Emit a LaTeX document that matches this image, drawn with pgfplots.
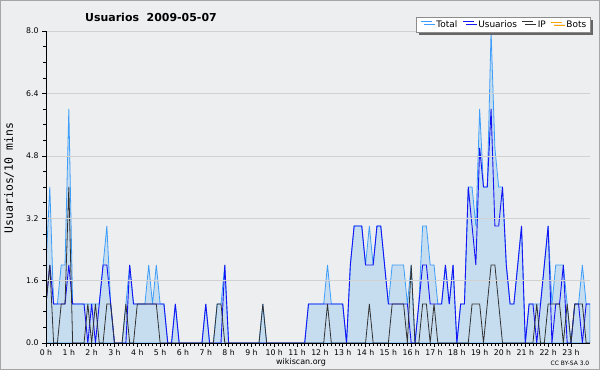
\documentclass[border=0pt]{standalone}
\usepackage{pgfplots}
\usepackage{pgfplotstable}
\pgfplotsset{compat=1.18}
\usepackage{fontspec}
\setmainfont{DejaVu Sans}
\newfontfamily\monofont{DejaVu Sans Mono}
\usetikzlibrary{shadows}
\definecolor{bgc}{RGB}{237,238,240}
\definecolor{totline}{RGB}{60,158,250}
\definecolor{totfill}{RGB}{198,221,240}
\definecolor{usrline}{RGB}{20,20,245}
\definecolor{ipline}{RGB}{50,50,50}
\definecolor{botline}{RGB}{255,165,0}
\pgfplotstableread{
i U IP T
0 1 1 2
1 2 2 4
2 1 0 1
3 1 0 1
4 1 1 2
5 1 1 2
6 2 4 6
7 1 0 1
8 1 0 1
9 1 0 1
10 1 0 1
11 0 1 1
12 1 0 1
13 0 1 1
14 1 0 1
15 2 0 2
16 2 1 3
17 1 1 1
18 0 0 0
19 0 0 0
20 0 0 0
21 0 1 1
22 2 0 2
23 1 0 1
24 1 1 1
25 1 1 1
26 1 1 1
27 1 1 2
28 1 1 1
29 1 1 2
30 1 0 1
31 1 0 1
32 0 0 0
33 0 0 0
34 1 0 1
35 0 0 0
36 0 0 0
37 0 0 0
38 0 0 0
39 0 0 0
40 0 0 0
41 0 0 0
42 1 0 1
43 0 0 0
44 0 0 0
45 0 1 1
46 0 1 1
47 2 0 2
48 0 0 0
49 0 0 0
50 0 0 0
51 0 0 0
52 0 0 0
53 0 0 0
54 0 0 0
55 0 0 0
56 0 0 0
57 0 1 1
58 0 0 0
59 0 0 0
60 0 0 0
61 0 0 0
62 0 0 0
63 0 0 0
64 0 0 0
65 0 0 0
66 0 0 0
67 0 0 0
68 0 0 0
69 1 0 1
70 1 0 1
71 1 0 1
72 1 0 1
73 1 0 1
74 1 1 2
75 1 0 1
76 1 0 1
77 1 0 1
78 1 0 1
79 0 0 0
80 2 0 2
81 3 0 3
82 3 0 3
83 3 0 3
84 2 0 2
85 2 1 3
86 2 0 2
87 3 0 3
88 3 0 3
89 2 0 2
90 1 0 1
91 1 1 2
92 1 1 2
93 1 1 2
94 1 1 2
95 1 0 1
96 0 2 2
97 0 0 0
98 1 0 1
99 2 1 3
100 2 1 3
101 1 0 2
102 1 1 2
103 1 0 1
104 1 0 1
105 2 0 2
106 1 0 1
107 2 0 2
108 0 0 0
109 1 0 1
110 1 0 1
111 4 0 4
112 3 1 4
113 2 1 3
114 5 1 6
115 4 0 4
116 4 1 4
117 6 2 8
118 3 2 5
119 3 1 4
120 4 0 4
121 2 0 2
122 1 0 1
123 1 0 1
124 2 0 2
125 3 0 3
126 0 0 0
127 1 0 1
128 1 0 1
129 0 1 1
130 1 0 1
131 2 0 2
132 3 1 3
133 0 1 1
134 1 1 2
135 1 1 2
136 2 0 2
137 0 1 1
138 0 0 0
139 1 1 1
140 1 1 1
141 0 1 2
142 1 0 1
143 1 0 1
}\datatable
\begin{document}
\begin{tikzpicture}
\fill[bgc] (0,0) rectangle (600bp,370bp);
\draw[gray!70, line width=1bp] (0.5bp,0.5bp) rectangle (599.5bp,369.5bp);
\begin{axis}[
  at={(46bp,27bp)}, anchor=south west,
  scale only axis, width=544bp, height=312bp,
  xmin=0, xmax=23.8333, ymin=0, ymax=8,
  axis x line*=bottom, axis y line*=left,
  axis line style={black, line width=0.9bp},
  axis on top,
  xtick={0,1,...,23},
  xticklabels={0 h,1 h,2 h,3 h,4 h,5 h,6 h,7 h,8 h,9 h,10 h,11 h,12 h,13 h,14 h,15 h,16 h,17 h,18 h,19 h,20 h,21 h,22 h,23 h},
  minor x tick num=5,
  ytick={0,1.6,3.2,4.8,6.4,8.0},
  minor y tick num=3,
  yticklabel style={/pgf/number format/fixed, /pgf/number format/fixed zerofill, /pgf/number format/precision=1},
  /pgf/number format/assume math mode=true,
  tick align=outside,
  major tick length=4bp, minor tick length=3bp,
  tick style={black, line width=0.6bp},
  ymajorgrids,
  major grid style={color=black!18, line width=0.6bp},
  ticklabel style={font=\fontsize{7.8}{9}\selectfont},
  xticklabel style={yshift=1bp},
  legend style={at={(1,1.045)}, anchor=north east, legend columns=4,
    draw=black!45, fill=white, font=\fontsize{9}{11}\selectfont,
    drop shadow={shadow xshift=3bp, shadow yshift=-3bp, fill=black!60, opacity=1},
    inner sep=1.5bp, /tikz/every even column/.append style={column sep=0bp}},
  legend image code/.code={\path (-1bp,0bp) (15bp,0bp); \draw[#1] (2bp,3bp) -- (13bp,3bp);},
]
\addplot[draw=totline, fill=totfill, line width=0.8bp] table[x expr=\thisrow{i}/6, y=T] {\datatable} \closedcycle;
\addlegendentry{Total}
\addplot[draw=usrline, line width=0.9bp] table[x expr=\thisrow{i}/6, y=U] {\datatable};
\addlegendentry{Usuarios}
\addplot[draw=ipline, line width=0.8bp] table[x expr=\thisrow{i}/6, y=IP] {\datatable};
\addlegendentry{IP}
\addplot[draw=botline, line width=0.6bp] coordinates {(0,0) (23.8333,0)};
\addlegendentry{Bots}
\end{axis}
\node[font=\fontsize{11}{13}\selectfont\bfseries] at (151bp,353bp) {Usuarios\ \ 2009-05-07};
\node[font=\monofont\fontsize{11.5}{13}\selectfont, rotate=90] at (9bp,192bp) {Usuarios/10 mins};
\node[font=\fontsize{8}{10}\selectfont] at (301bp,7.5bp) {wikiscan.org};
\node[font=\fontsize{6}{7}\selectfont] at (570bp,7bp) {CC BY-SA 3.0};
\end{tikzpicture}
\end{document}
